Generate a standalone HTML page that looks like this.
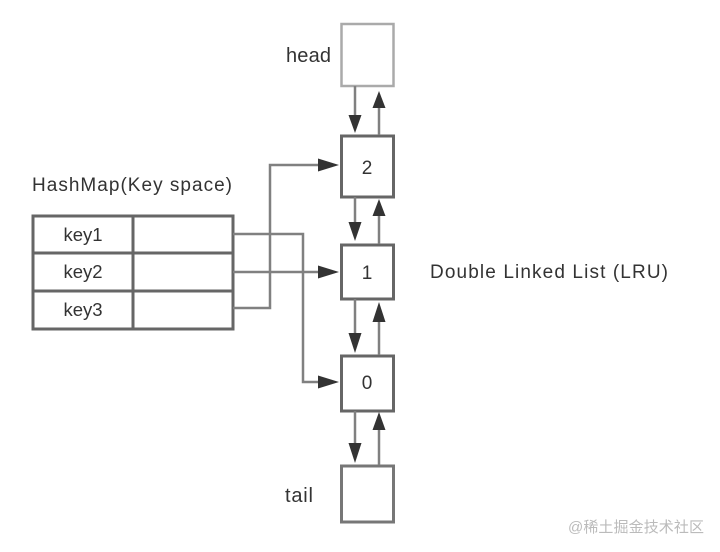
<!DOCTYPE html>
<html><head><meta charset="utf-8"><style>
html,body{margin:0;padding:0;background:#fff;}
svg{display:block;}
text{font-family:"Liberation Sans","Noto Sans CJK SC",sans-serif;fill:#333;}
</style></head><body>
<svg width="720" height="552" viewBox="0 0 720 552" xmlns="http://www.w3.org/2000/svg">
<rect width="720" height="552" fill="#fff"/>
<!-- boxes -->
<rect x="341.5" y="24" width="52" height="62" fill="#fff" stroke="#aaa" stroke-width="2.5"/>
<rect x="341.5" y="136" width="52" height="61" fill="#fff" stroke="#666" stroke-width="3"/>
<rect x="341.5" y="245" width="52" height="54" fill="#fff" stroke="#666" stroke-width="3"/>
<rect x="341.5" y="356" width="52" height="55" fill="#fff" stroke="#666" stroke-width="3"/>
<rect x="341.5" y="466" width="52" height="56" fill="#fff" stroke="#777" stroke-width="3"/>
<!-- vertical arrows -->
<g stroke="#808080" stroke-width="2.5" fill="none">
<line x1="355" y1="86" x2="355" y2="116"/>
<line x1="379" y1="135" x2="379" y2="106"/>
<line x1="355" y1="197" x2="355" y2="223"/>
<line x1="379" y1="244" x2="379" y2="214"/>
<line x1="355" y1="299" x2="355" y2="334"/>
<line x1="379" y1="355" x2="379" y2="321"/>
<line x1="355" y1="411" x2="355" y2="444"/>
<line x1="379" y1="465" x2="379" y2="429"/>
</g>
<g fill="#333">
<polygon points="348.5,115 361.5,115 355,133"/>
<polygon points="372.5,108 385.5,108 379,91"/>
<polygon points="348.5,222 361.5,222 355,241"/>
<polygon points="372.5,216 385.5,216 379,199"/>
<polygon points="348.5,333 361.5,333 355,353"/>
<polygon points="372.5,322 385.5,322 379,302"/>
<polygon points="348.5,443 361.5,443 355,463"/>
<polygon points="372.5,430 385.5,430 379,412"/>
</g>
<!-- table -->
<g stroke="#666" stroke-width="3" fill="none">
<rect x="33" y="216" width="200" height="113"/>
<line x1="33" y1="253" x2="233" y2="253"/>
<line x1="33" y1="291" x2="233" y2="291"/>
<line x1="133" y1="216" x2="133" y2="329"/>
</g>
<!-- connectors -->
<g stroke="#808080" stroke-width="2.5" fill="none">
<polyline points="233,234 303,234 303,382 320,382"/>
<polyline points="233,272 320,272"/>
<polyline points="233,308 270,308 270,165 320,165"/>
</g>
<g fill="#333">
<polygon points="318,158.5 318,171.5 339,165"/>
<polygon points="318,265.5 318,278.5 339,272"/>
<polygon points="318,375.5 318,388.5 339,382"/>
</g>
<!-- text -->
<text x="286" y="62" font-size="20" textLength="45">head</text>
<text x="285" y="502" font-size="20" textLength="28">tail</text>
<text x="367" y="174" font-size="19" text-anchor="middle">2</text>
<text x="367" y="279" font-size="19" text-anchor="middle">1</text>
<text x="367" y="389" font-size="19" text-anchor="middle">0</text>
<text x="32" y="191" font-size="19" textLength="200">HashMap(Key space)</text>
<text x="83" y="241" font-size="18.5" text-anchor="middle">key1</text>
<text x="83" y="278" font-size="18.5" text-anchor="middle">key2</text>
<text x="83" y="316" font-size="18.5" text-anchor="middle">key3</text>
<text x="430" y="278" font-size="19" textLength="238">Double Linked List (LRU)</text>
<text x="568" y="532" font-size="15" textLength="136" style="fill:#bbb">@稀土掘金技术社区</text>
</svg>
</body></html>
